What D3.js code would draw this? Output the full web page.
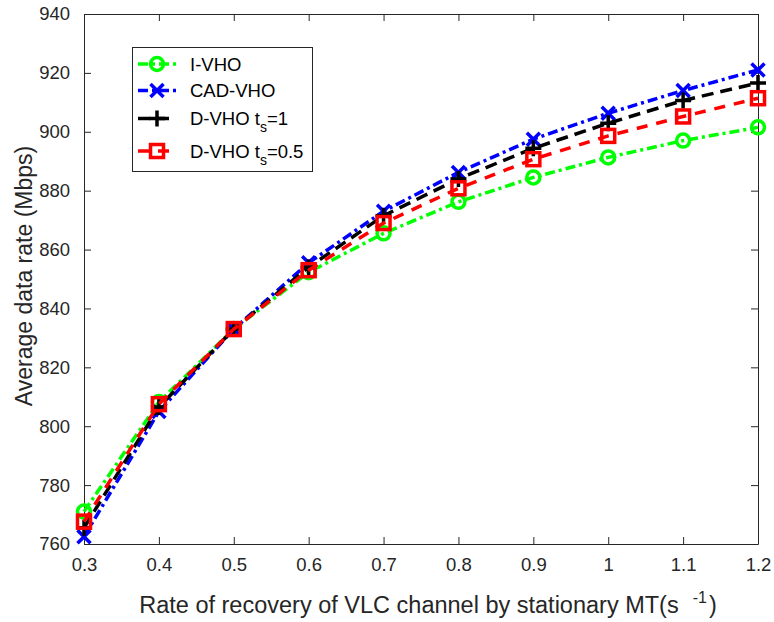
<!DOCTYPE html>
<html><head>
<script src="https://d3js.org/d3.v7.min.js"></script>
<style>
body { margin: 0; background: white; }
svg { font-family: "Liberation Sans", Arial, sans-serif; }
.tick text { font-size: 18.5px; fill: #262626; }
</style>
</head><body>
<svg id="chart" width="774" height="622"></svg>
<script>
var xVals = [0.3, 0.4, 0.5, 0.6, 0.7, 0.8, 0.9, 1.0, 1.1, 1.2];
var xTickLabels = ["0.3", "0.4", "0.5", "0.6", "0.7", "0.8", "0.9", "1", "1.1", "1.2"];
var yTicks = [760, 780, 800, 820, 840, 860, 880, 900, 920, 940];

var iVho = [771, 808.2, 833, 852.3, 865.5, 876.2, 884.5, 891.3, 897, 901.5];
var cadVho = [762.5, 805, 833, 855.5, 873, 886.2, 897.5, 906.3, 914, 921];
var dVho1 = [765.5, 806.5, 833, 854, 871.5, 884, 894.4, 902.9, 910.6, 916.6];
var dVho05 = [767.6, 807.5, 833, 853, 869, 880.8, 890.7, 898.6, 905.2, 911.4];

var plotL = 84, plotR = 758, plotT = 14, plotB = 544;

var x = d3.scaleLinear().domain([0.3, 1.2]).range([plotL, plotR]);
var y = d3.scaleLinear().domain([760, 940]).range([plotB, plotT]);

var svg = d3.select("#chart");

// axes, MATLAB box style with inner ticks
var axisColor = "#262626";
function styleAxis(g) {
    g.select(".domain").attr("stroke", axisColor).attr("stroke-width", 1);
    g.selectAll(".tick line").attr("stroke", axisColor);
}
svg.append("g")
    .attr("transform", "translate(0," + plotB + ")")
    .call(d3.axisBottom(x).tickValues(xVals).tickSizeInner(-7).tickSizeOuter(0).tickPadding(14)
        .tickFormat(function(d, i) { return xTickLabels[i]; }))
    .call(styleAxis);
svg.append("g")
    .attr("transform", "translate(0," + plotT + ")")
    .call(d3.axisTop(x).tickValues(xVals).tickSizeInner(-7).tickSizeOuter(0).tickFormat(""))
    .call(styleAxis);
svg.append("g")
    .attr("transform", "translate(" + plotL + ",0)")
    .call(d3.axisLeft(y).tickValues(yTicks).tickSizeInner(-7).tickSizeOuter(0).tickPadding(14))
    .call(styleAxis);
svg.append("g")
    .attr("transform", "translate(" + plotR + ",0)")
    .call(d3.axisRight(y).tickValues(yTicks).tickSizeInner(-7).tickSizeOuter(0).tickFormat(""))
    .call(styleAxis);
svg.selectAll(".tick text").attr("font-family", null).attr("font-size", null);

// axis labels
svg.append("text")
    .attr("transform", "translate(32,276) rotate(-90)")
    .attr("text-anchor", "middle")
    .attr("font-size", 23).attr("fill", axisColor)
    .text("Average data rate (Mbps)");

var xl = svg.append("text")
    .attr("x", 428).attr("y", 613)
    .attr("text-anchor", "middle")
    .attr("font-size", 23.5).attr("fill", axisColor);
xl.append("tspan").text("Rate of recovery of VLC channel by stationary MT(s");
xl.append("tspan").attr("dx", 14).attr("dy", -10).attr("font-size", 16).text("-1");
xl.append("tspan").attr("dx", 2).attr("dy", 10).text(")");

// series
var series = [
    { name: "I-VHO", data: iVho, color: "#00ff00", dash: "10,4,3,4", marker: "circle" },
    { name: "CAD-VHO", data: cadVho, color: "#0000ff", dash: "10,4,3,4", marker: "x" },
    { name: "D-VHO t", sub: "s", tail: "=1", data: dVho1, color: "#000000", dash: "12,7", marker: "plus" },
    { name: "D-VHO t", sub: "s", tail: "=0.5", data: dVho05, color: "#ff0000", dash: "11,9", marker: "square" }
];

var line = d3.line()
    .x(function(d, i) { return x(xVals[i]); })
    .y(function(d) { return y(d); });

var lw = 3.5;
function drawMarker(g, type, cx, cy, color) {
    if (type === "circle") {
        g.append("circle").attr("cx", cx).attr("cy", cy).attr("r", 6.5)
            .attr("fill", "none").attr("stroke", color).attr("stroke-width", lw);
    } else if (type === "square") {
        g.append("rect").attr("x", cx - 6.5).attr("y", cy - 6.5).attr("width", 13).attr("height", 13)
            .attr("fill", "none").attr("stroke", color).attr("stroke-width", lw);
    } else if (type === "plus") {
        g.append("path").attr("d", "M" + (cx - 8) + "," + cy + "H" + (cx + 8) + "M" + cx + "," + (cy - 8) + "V" + (cy + 8))
            .attr("stroke", color).attr("stroke-width", lw);
    } else {
        g.append("path").attr("d", "M" + (cx - 6.5) + "," + (cy - 6.5) + "L" + (cx + 6.5) + "," + (cy + 6.5) +
                "M" + (cx - 6.5) + "," + (cy + 6.5) + "L" + (cx + 6.5) + "," + (cy - 6.5))
            .attr("stroke", color).attr("stroke-width", lw);
    }
}

series.forEach(function(s) {
    var g = svg.append("g");
    g.append("path").datum(s.data)
        .attr("d", line)
        .attr("fill", "none")
        .attr("stroke", s.color)
        .attr("stroke-width", lw)
        .attr("stroke-dasharray", s.dash);
    s.data.forEach(function(v, i) { drawMarker(g, s.marker, x(xVals[i]), y(v), s.color); });
});

// legend
var lg = svg.append("g");
lg.append("rect").attr("x", 132.5).attr("y", 47.5).attr("width", 180).attr("height", 124)
    .attr("fill", "white").attr("stroke", axisColor).attr("stroke-width", 1);
var rowY = [64, 90.5, 118.5, 151];
series.forEach(function(s, i) {
    var yy = rowY[i];
    lg.append("line").attr("x1", 138).attr("x2", 176).attr("y1", yy).attr("y2", yy)
        .attr("stroke", s.color).attr("stroke-width", lw).attr("stroke-dasharray", s.dash);
    drawMarker(lg, s.marker, 157, yy, s.color);
    var t = lg.append("text").attr("x", 190).attr("y", yy + 6.5)
        .attr("font-size", 18.5).attr("fill", "#000");
    t.append("tspan").text(s.name);
    if (s.sub) {
        t.append("tspan").attr("dy", 7).attr("font-size", 14).text(s.sub);
        t.append("tspan").attr("dy", -7).text(s.tail);
    }
});
</script>
</body></html>
